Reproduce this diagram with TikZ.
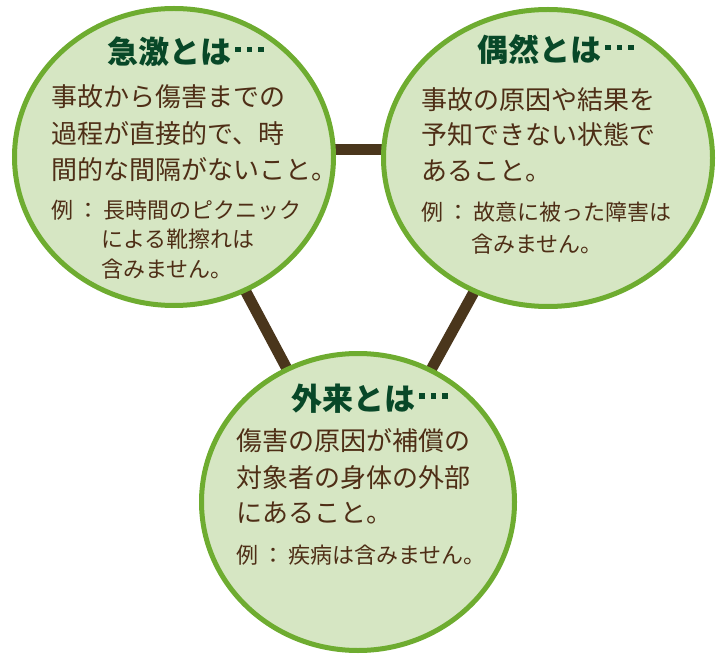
\documentclass[tikz,border=0pt]{standalone}
\usepackage{fontspec}
\newfontfamily\jp{Noto Sans CJK JP}
\usetikzlibrary{shapes.geometric,backgrounds}
\definecolor{fillg}{RGB}{214,230,195}
\definecolor{ringg}{RGB}{110,172,48}
\definecolor{titleg}{RGB}{8,72,40}
\definecolor{bodyb}{RGB}{78,46,22}
\definecolor{barb}{RGB}{74,54,28}
\newcommand{\onedot}{\rule[11.5pt]{5.5pt}{5.5pt}}
\newcommand{\middots}{\kern4pt\onedot\kern6pt\onedot\kern6pt\onedot}
\begin{document}
\begin{tikzpicture}[x=1pt,y=-1pt,
 bubble/.style={ellipse, draw=ringg, fill=fillg, line width=5pt, inner sep=0pt, minimum height=297pt},
 bar/.style={draw=barb, line width=11pt},
 ttl/.style={anchor=base west, inner sep=0pt, text=titleg, font=\jp\bfseries\fontsize{31}{31}\selectfont},
 bodytxt/.style={anchor=base west, inner sep=0pt, text=bodyb, font=\jp\fontsize{26}{26}\selectfont},
 extxt/.style={anchor=base west, inner sep=0pt, text=bodyb, font=\jp\fontsize{22}{22}\selectfont}]
\useasboundingbox (0,0) rectangle (720,660);
\node[bubble, minimum width=319pt] (A) at (174,157) {};
\node[bubble, minimum width=329pt] (B) at (548,158) {};
\node[bubble, minimum width=313pt] (C) at (358,502) {};
\begin{scope}[on background layer]
\draw[bar] ([yshift=7pt]A.center) -- ([yshift=8pt]B.center);
\draw[bar] (A.center) -- (C.center);
\draw[bar] (B.center) -- (C.center);
\end{scope}
% left
\node[ttl] (At) at (107,64) {急激とは\middots};
\node[bodytxt] (A1) at (51,107) {事故から傷害までの};
\node[bodytxt] (A2) at (51,144) {過程が直接的で、時};
\node[bodytxt] (A3) at (51,180) {間的な間隔がないこと。};
\node[extxt] (A4) at (51,219) {例\hspace{4pt}：\hspace{4pt}長時間のピクニック};
\node[extxt] (A5) at (101,248) {による靴擦れは};
\node[extxt] (A6) at (101,278) {含みません。};
% right
\node[ttl] (Bt) at (477,62) {偶然とは\middots};
\node[bodytxt] (B1) at (421,110) {事故の原因や結果を};
\node[bodytxt] (B2) at (421,145) {予知できない状態で};
\node[bodytxt] (B3) at (421,181) {あること。};
\node[extxt] (B4) at (421,221) {例\hspace{4pt}：\hspace{4pt}故意に被った障害は};
\node[extxt] (B5) at (471,253) {含みません。};
% bottom
\node[ttl] (Ct) at (291,410) {外来とは\middots};
\node[bodytxt] (C1) at (236,450) {傷害の原因が補償の};
\node[bodytxt] (C2) at (236,487) {対象者の身体の外部};
\node[bodytxt] (C3) at (236,522) {にあること。};
\node[extxt] (C4) at (236,563) {例\hspace{4pt}：\hspace{4pt}疾病は含みません。};
\end{tikzpicture}
\end{document}
